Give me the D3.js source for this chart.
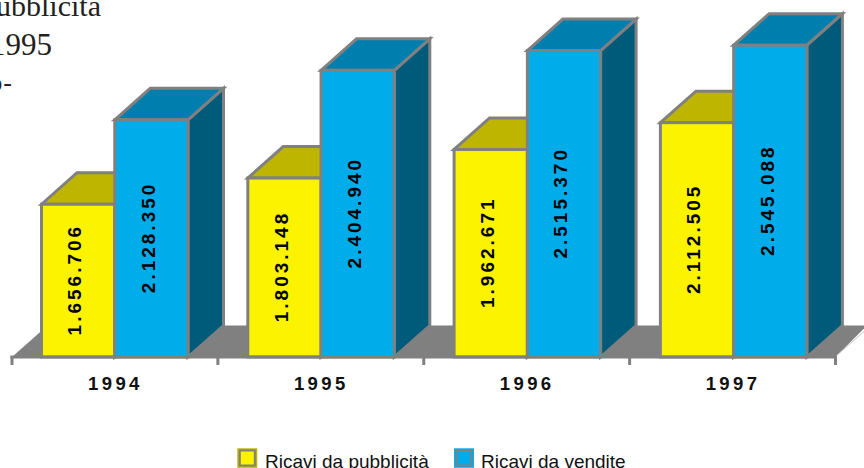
<!DOCTYPE html>
<html><head><meta charset="utf-8">
<script src="https://cdnjs.cloudflare.com/ajax/libs/d3/7.8.5/d3.min.js"></script>
<style>html,body{margin:0;padding:0;background:#fff;overflow:hidden}svg{display:block}</style>
</head><body><svg id="c" width="864" height="468"></svg>
<script>
const years = ["1994","1995","1996","1997"];
const seriesNames = ["Ricavi da pubblicità","Ricavi da vendite"];
const pubblicita = [1656706,1803148,1962671,2112505];
const vendite = [2128350,2404940,2515370,2545088];
const fragments = ["ubblicita","1995","o-"];

const svg = d3.select("#c");
const gray = "#808080";
const fills = [
  {front:"#FBF300", top:"#BDB500", side:"#8A8400"},
  {front:"#00ADEA", top:"#007FAF", side:"#005A7A"}
];
const dx = 35.5, dy = -31.5, baseY = 357;
const x = d3.scaleBand().domain(years).range([11.5,836.7]);
const tickX = d3.scaleBand().domain(years).range([12,835.5]);
const inner = d3.scaleBand().domain(seriesNames).range([30,176.5]);
const y = d3.scaleLinear().domain([800000,2600000]).range([357.6,35.4]);
const fmt = v => d3.format(",")(v).replace(/,/g,".");

const serif = "'Liberation Serif','Times New Roman',serif";
svg.append("text").attr("x",101).attr("y",16).attr("text-anchor","end").attr("font-family",serif).attr("font-size",30).attr("fill","#231f20").text(fragments[0]);
svg.append("text").attr("x",52).attr("y",55).attr("text-anchor","end").attr("font-family",serif).attr("font-size",31).attr("fill","#231f20").text(fragments[1]);
svg.append("text").attr("x",13).attr("y",91).attr("text-anchor","end").attr("font-family",serif).attr("font-size",26).attr("letter-spacing",1).attr("fill","#231f20").text(fragments[2]);

const x0 = tickX.range()[0], x1 = tickX.range()[1];
svg.append("path").attr("fill",gray)
  .attr("d",d3.line()([[x0,baseY],[x0+dx,baseY+dy],[864,baseY+dy],[864,baseY+dy+3],[x1,baseY]])+"Z");
svg.append("path").attr("fill","none").attr("stroke","#c8c8c8").attr("stroke-width",1)
  .attr("d",d3.line()([[x1,baseY-0.5],[864,baseY+dy+6]]));

const rows = years.map((yr,i)=>[pubblicita[i],vendite[i]].map((v,s)=>({yr,v,s,name:seriesNames[s]})));
rows.forEach(row=>{
  const g = svg.append("g");
  row.forEach(d=>{
    const l = x(d.yr)+inner(d.name), w = inner.bandwidth(), t = y(d.v), b = baseY;
    const c = fills[d.s];
    const bar = g.append("g").attr("stroke",gray).attr("stroke-width",3).attr("stroke-linejoin","miter");
    bar.append("path").attr("fill",c.side).attr("d",d3.line()([[l+w,t],[l+w+dx,t+dy],[l+w+dx,b+dy],[l+w,b]])+"Z");
    bar.append("path").attr("fill",c.top).attr("d",d3.line()([[l,t],[l+dx,t+dy],[l+w+dx,t+dy],[l+w,t]])+"Z");
    bar.append("rect").attr("x",l).attr("y",t).attr("width",w).attr("height",b-t).attr("fill",c.front);
  });
  row.forEach(d=>{
    const cx = x(d.yr)+inner(d.name)+inner.bandwidth()/2+3.3, cy = (y(d.v)+baseY)/2-1;
    g.append("text").attr("transform",`translate(${cx},${cy}) rotate(-90)`)
      .attr("text-anchor","middle").attr("font-family","'Liberation Sans',Arial,sans-serif")
      .attr("font-weight","bold").attr("font-size",19).attr("letter-spacing",3).attr("fill","#000").text(fmt(d.v));
  });
});

const axis = svg.append("g");
axis.append("line").attr("x1",x0-1.5).attr("x2",x1+1.5).attr("y1",357).attr("y2",357).attr("stroke",gray).attr("stroke-width",3);
[...years.map(d=>tickX(d)),x1].forEach(t=>axis.append("line").attr("x1",t).attr("x2",t).attr("y1",356).attr("y2",365).attr("stroke",gray).attr("stroke-width",3));
years.forEach(yr=>axis.append("text").attr("x",tickX(yr)+tickX.bandwidth()/2+0.5).attr("y",390).attr("text-anchor","middle")
  .attr("font-family","'Liberation Sans',Arial,sans-serif").attr("font-weight","bold").attr("font-size",18.5).attr("letter-spacing",3.4).attr("fill","#111").text(yr));

const legX = [237.3,454], txtX = [265,481], border = ["#BDB500","#00ADEA"];
seriesNames.forEach((n,i)=>{
  svg.append("rect").attr("x",legX[i]).attr("y",448.3).attr("width",20).attr("height",19.5).attr("fill",border[i]);
  svg.append("rect").attr("x",legX[i]+2.5).attr("y",450.5).attr("width",15).attr("height",15).attr("fill",fills[i].front).attr("stroke",gray).attr("stroke-width",2);
  svg.append("text").attr("x",txtX[i]).attr("y",468).attr("font-family","'Liberation Sans',Arial,sans-serif").attr("font-size",19).attr("fill","#111").text(n);
});
</script></body></html>
